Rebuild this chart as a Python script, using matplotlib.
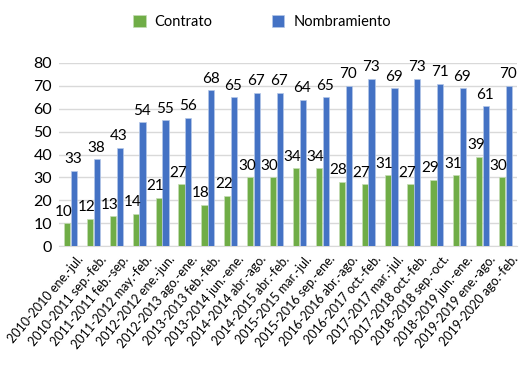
import numpy as np
import matplotlib.pyplot as plt
import matplotlib.transforms as mtransforms

plt.rcParams['font.family'] = ['Lato', 'DejaVu Sans']

periodos = [
    "2010-2010 ene.-jul.", "2010-2011 sep.-feb.", "2011-2011 feb.-sep.",
    "2011-2012 may.-feb.", "2012-2012 ene.-jun.", "2012-2013 ago.-ene.",
    "2013-2013 feb.-feb.", "2013-2014 jun.-ene.", "2014-2014 abr.-ago.",
    "2014-2015 abr.-feb.", "2015-2015 mar.-jul.", "2015-2016 sep.-ene.",
    "2016-2016 abr.-ago.", "2016-2017 oct.-feb.", "2017-2017 mar.-jul.",
    "2017-2018 oct.-feb.", "2018-2018 sep.-oct.", "2018-2019 jun.-ene.",
    "2019-2019 ene.-ago.", "2019-2020 ago.-feb.",
]
contrato = [10, 12, 13, 14, 21, 27, 18, 22, 30, 30, 34, 34, 28, 27, 31, 27, 29, 31, 39, 30]
nombramiento = [33, 38, 43, 54, 55, 56, 68, 65, 67, 67, 64, 65, 70, 73, 69, 73, 71, 69, 61, 70]

verde = "#70AD47"
azul = "#4472C4"

fig = plt.figure(figsize=(5.24, 3.66), dpi=100)
ax = fig.add_axes([59 / 524, 1 - 246 / 366, 458 / 524, 183 / 366])

x = np.arange(len(periodos))
w = 0.27
b1 = ax.bar(x - 0.15, contrato, w, color=verde, edgecolor="#C5DDB5", linewidth=0.5,
            label="Contrato", zorder=3)
b2 = ax.bar(x + 0.15, nombramiento, w, color=azul, edgecolor="#B4C7E7", linewidth=0.5,
            label="Nombramiento", zorder=3)

# etiquetas de valores
for xi, v in zip(x, contrato):
    ax.text(xi - 0.3, v + 2, str(v), ha="center", va="bottom", fontsize=11)
for xi, v in zip(x, nombramiento):
    ax.text(xi + 0.12, v + 2, str(v), ha="center", va="bottom", fontsize=11)

ax.set_xlim(-0.5, len(periodos) - 0.5)
ax.set_ylim(0, 80)
ax.set_yticks(range(0, 81, 10))
ax.tick_params(axis="y", length=0, labelsize=11.5, pad=5)
ax.tick_params(axis="x", length=0, labelsize=9, pad=5)
ax.set_xticks(x)
ax.set_xticklabels(periodos, rotation=50, ha="right", rotation_mode="anchor")
desplaza = mtransforms.ScaledTranslation(0.06, 0, fig.dpi_scale_trans)
for lbl in ax.get_xticklabels():
    lbl.set_transform(lbl.get_transform() + desplaza)
ax.grid(axis="y", color="#D9D9D9", linewidth=1, zorder=0)
for s in ["top", "right", "left"]:
    ax.spines[s].set_visible(False)
ax.spines["bottom"].set_color("#D9D9D9")

fig.legend(handles=[b1, b2], loc="center", bbox_to_anchor=(0.5, 1 - 22 / 366), ncol=2,
           frameon=False, fontsize=10.5, columnspacing=4.1, handlelength=0.85,
           handleheight=0.85, handletextpad=0.6)

fig.savefig("out.png", dpi=100)
